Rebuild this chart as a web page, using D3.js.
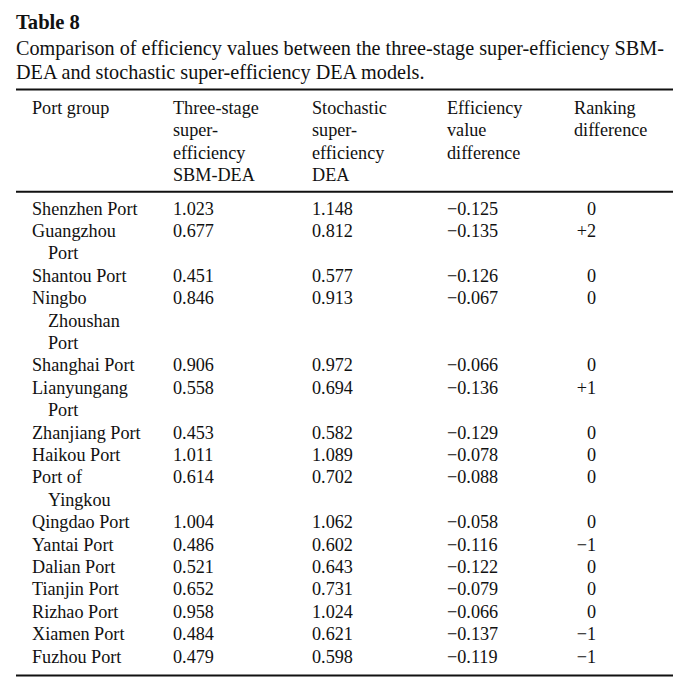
<!DOCTYPE html>
<html>
<head>
<meta charset="utf-8">
<script src="https://cdn.jsdelivr.net/npm/d3@7/dist/d3.min.js"></script>
<style>
  html, body { margin: 0; padding: 0; background: #fff; }
  svg { display: block; }
  text { font-family: "Liberation Serif", "Times New Roman", serif; fill: #111; }
</style>
</head>
<body>
<svg id="chart" width="700" height="693"></svg>
<script>
// ---- data ----
const tableTitle = "Table 8";
const captionLines = [
  "Comparison of efficiency values between the three-stage super-efficiency SBM-",
  "DEA and stochastic super-efficiency DEA models."
];
const columnKeys = ["port", "three", "stoch", "diff", "rank"];
const columnHeaders = [
  ["Port group"],
  ["Three-stage", "super-", "efficiency", "SBM-DEA"],
  ["Stochastic", "super-", "efficiency", "DEA"],
  ["Efficiency", "value", "difference"],
  ["Ranking", "difference"]
];
const portLabels = [
  ["Shenzhen Port"],
  ["Guangzhou", "Port"],
  ["Shantou Port"],
  ["Ningbo", "Zhoushan", "Port"],
  ["Shanghai Port"],
  ["Lianyungang", "Port"],
  ["Zhanjiang Port"],
  ["Haikou Port"],
  ["Port of", "Yingkou"],
  ["Qingdao Port"],
  ["Yantai Port"],
  ["Dalian Port"],
  ["Tianjin Port"],
  ["Rizhao Port"],
  ["Xiamen Port"],
  ["Fuzhou Port"]
];
const threeStage = [1.023, 0.677, 0.451, 0.846, 0.906, 0.558, 0.453, 1.011, 0.614, 1.004, 0.486, 0.521, 0.652, 0.958, 0.484, 0.479];
const stochastic = [1.148, 0.812, 0.577, 0.913, 0.972, 0.694, 0.582, 1.089, 0.702, 1.062, 0.602, 0.643, 0.731, 1.024, 0.621, 0.598];
const effDiff = [-0.125, -0.135, -0.126, -0.067, -0.066, -0.136, -0.129, -0.078, -0.088, -0.058, -0.116, -0.122, -0.079, -0.066, -0.137, -0.119];
const rankDiff = [0, 2, 0, 0, 0, 1, 0, 0, 0, 0, -1, 0, 0, 0, -1, -1];

// ---- layout ----
const svg = d3.select("#chart");
const lineH = 22.4;
const bodySize = 18.2;
const ruleLeft = 16, ruleRight = 673;

const xCol = d3.scaleOrdinal().domain(columnKeys).range([32, 173, 312, 447, 596]);
const anchorCol = d3.scaleOrdinal().domain(columnKeys).range(["start", "start", "start", "start", "end"]);
const yHead = d3.scaleLinear().domain([0, 1]).range([113.8, 113.8 + lineH]);
const yBody = d3.scaleLinear().domain([0, 1]).range([214.5, 214.5 + lineH]);

const fmt3 = d3.format(".3f");
const minus = "\u2212";
const fmtNum = v => (v < 0 ? minus + fmt3(-v) : fmt3(v));
const fmtRank = v => (v > 0 ? "+" + v : v < 0 ? minus + (-v) : "0");

// title
svg.append("text")
  .attr("x", 16).attr("y", 28.5)
  .attr("font-size", 20.6).attr("font-weight", "bold")
  .text(tableTitle);

svg.selectAll("text.caption")
  .data(captionLines)
  .join("text")
  .attr("class", "caption")
  .attr("x", 16)
  .attr("y", (d, i) => 55 + i * 24)
  .attr("font-size", 20.2)
  .text(d => d);

// rules
const rules = [89.5, 191.7, 675.5];
svg.selectAll("line.rule")
  .data(rules)
  .join("line")
  .attr("class", "rule")
  .attr("x1", ruleLeft).attr("x2", ruleRight)
  .attr("y1", d => d).attr("y2", d => d)
  .attr("stroke", "#111").attr("stroke-width", 2);

// headers
columnKeys.forEach((key, ci) => {
  const txt = svg.append("text")
    .attr("font-size", bodySize)
    .attr("text-anchor", key === "rank" ? "start" : "start");
  columnHeaders[ci].forEach((line, li) => {
    txt.append("tspan")
      .attr("x", key === "rank" ? 574 : xCol(key))
      .attr("y", yHead(li))
      .text(line);
  });
});

// body rows
const rows = portLabels.map((lab, i) => ({
  label: lab,
  three: threeStage[i],
  stoch: stochastic[i],
  diff: effDiff[i],
  rank: rankDiff[i]
}));
let lineIdx = 0;
rows.forEach(r => { r.start = lineIdx; lineIdx += r.label.length; });

const g = svg.append("g").attr("font-size", bodySize);
rows.forEach(r => {
  const t = g.append("text");
  r.label.forEach((line, li) => {
    t.append("tspan")
      .attr("x", xCol("port") + (li > 0 ? 16 : 0))
      .attr("y", yBody(r.start + li))
      .text(line);
  });
  [["three", fmtNum(r.three)], ["stoch", fmtNum(r.stoch)], ["diff", fmtNum(r.diff)], ["rank", fmtRank(r.rank)]]
    .forEach(([k, s]) => {
      g.append("text")
        .attr("x", xCol(k))
        .attr("y", yBody(r.start))
        .attr("text-anchor", anchorCol(k))
        .text(s);
    });
});
</script>
</body>
</html>
